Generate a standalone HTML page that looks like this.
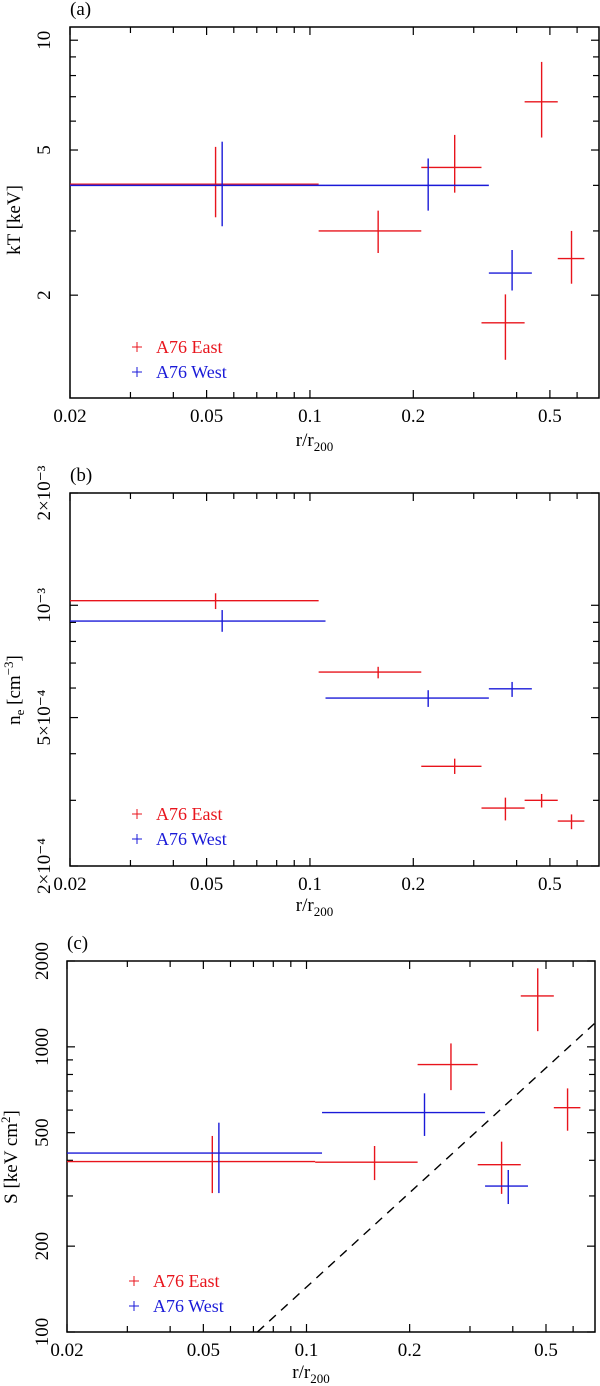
<!DOCTYPE html>
<html><head><meta charset="utf-8"><style>
html,body{margin:0;padding:0;background:#fff;}
svg{display:block;font-family:"Liberation Serif","DejaVu Serif",serif;}
</style></head><body>
<svg id="fig" width="600" height="1386" viewBox="0 0 600 1386" xmlns="http://www.w3.org/2000/svg"></svg>
<script>
// ---------- data ----------
// Panel (a) kT [keV]
const eastA_x=[0.0531,0.158,0.264,0.371,0.473,0.578];
const eastA_xlo=[0.02,0.106,0.211,0.316,0.422,0.527];
const eastA_xhi=[0.106,0.211,0.316,0.422,0.527,0.63];
const eastA_y=[4.03,3.0,4.48,1.68,6.78,2.52];
const eastA_ylo=[3.27,2.61,3.82,1.33,5.41,2.15];
const eastA_yhi=[5.1,3.41,5.5,2.01,8.72,3.0];
const westA_x=[0.0555,0.221,0.388];
const westA_xlo=[0.02,0.111,0.332];
const westA_xhi=[0.111,0.332,0.443];
const westA_y=[4.0,4.0,2.30];
const westA_ylo=[3.09,3.41,2.06];
const westA_yhi=[5.27,4.74,2.66];
// Panel (b) n_e [cm^-3]
const eastB_y=[1.029e-3,6.62e-4,3.70e-4,2.86e-4,3.0e-4,2.64e-4];
const eastB_ylo=[0.977e-3,6.37e-4,3.53e-4,2.65e-4,2.87e-4,2.51e-4];
const eastB_yhi=[1.077e-3,6.84e-4,3.88e-4,3.05e-4,3.12e-4,2.75e-4];
const westB_y=[9.07e-4,5.64e-4,5.97e-4];
const westB_ylo=[8.49e-4,5.34e-4,5.68e-4];
const westB_yhi=[9.71e-4,5.92e-4,6.23e-4];
// Panel (c) S [keV cm^2]
const eastC_y=[396,394,867,386,1508,612];
const eastC_ylo=[307,341,705,305,1135,508];
const eastC_yhi=[487,449,1028,465,1885,715];
const westC_y=[424,588,325];
const westC_ylo=[307,487,281];
const westC_yhi=[542,687,370];
const baseline_x=[0.0719,0.692];
const baseline_y=[100,1206];
// ticks
const xTickLabels=["0.02","0.05","0.1","0.2","0.5"];
const xTickValues=[0.02,0.05,0.1,0.2,0.5];
const xMinor=[0.03,0.04,0.06,0.07,0.08,0.09,0.3,0.4,0.6];
const yTickA=[2,5,10]; const yTickALabels=["2","5","10"];
const yMinorA=[3,4,6,7,8,9];
const yTickB=[2e-4,5e-4,1e-3,2e-3]; const yTickBLabels=["2×10⁻⁴","5×10⁻⁴","10⁻³","2×10⁻³"];
const yMinorB=[3e-4,4e-4,6e-4,7e-4,8e-4,9e-4];
const yTickC=[100,200,500,1000,2000]; const yTickCLabels=["100","200","500","1000","2000"];
const yMinorC=[300,400,600,700,800,900];

const NS="http://www.w3.org/2000/svg";
const svg=document.getElementById('fig');
const RED="#e8141c", BLUE="#1a1ad8";
function mk(tag,attrs,parent){const e=document.createElementNS(NS,tag);for(const k in attrs)e.setAttribute(k,attrs[k]);(parent||svg).appendChild(e);return e;}

function panel(cfg){
  const g=mk('g',{});
  
  
  const L=cfg.left,R=cfg.right,T=cfg.top,B=cfg.bottom;
  const lx0=Math.log10(0.02),lx1=Math.log10(0.695);
  const ly0=Math.log10(cfg.ymin),ly1=Math.log10(cfg.ymax);
  const sx=v=>L+(Math.log10(v)-lx0)/(lx1-lx0)*(R-L);
  const sy=v=>B-(Math.log10(v)-ly0)/(ly1-ly0)*(B-T);
  const tk=mk('g',{stroke:'#000','stroke-width':1.2},g);
  
  
  xTickValues.concat(xMinor).forEach((v,i)=>{const x=sx(v),len=i<xTickValues.length?8:6;
    mk('line',{x1:x,x2:x,y1:B,y2:B-len},tk);mk('line',{x1:x,x2:x,y1:T,y2:T+len},tk);});
  cfg.yt.concat(cfg.ym).forEach((v,i)=>{const y=sy(v),len=i<cfg.yt.length?8:6;
    mk('line',{x1:L,x2:L+len,y1:y,y2:y},tk);mk('line',{x1:R,x2:R-len,y1:y,y2:y},tk);});
  const fr=mk('rect',{x:L,y:T,width:R-L,height:B-T,fill:'none',stroke:'#000','stroke-width':1.5},g);
  
  
  xTickValues.forEach((v,i)=>{const t=mk('text',{x:sx(v),y:B+24,'font-size':19,'text-anchor':'middle'},g);t.textContent=xTickLabels[i];
    
    });
  cfg.yt.forEach((v,i)=>{const y=sy(v);const t=mk('text',{x:0,y:0,'font-size':19,'text-anchor':'middle',transform:`translate(${cfg.ylx},${y}) rotate(-90)`},g);t.textContent=cfg.ytl[i];
    
    });
  const xt=mk('text',{x:(L+R)/2+(cfg.xtOff||0),y:cfg.xTitleY,'font-size':19,'text-anchor':'middle'},g);
  xt.innerHTML='r/r<tspan font-size="13" dy="5">200</tspan>';
  
  
  const yt=mk('text',{x:0,y:0,'font-size':19,'text-anchor':'middle',transform:`translate(${cfg.ytX},${cfg.ytY}) rotate(-90)`},g);
  yt.innerHTML=cfg.yTitle;
  
  
  const pl=mk('text',{x:L,y:T-12,'font-size':19},g);pl.textContent=cfg.label;
  
  
  if(cfg.base){const bl=mk('line',{x1:sx(baseline_x[0]),y1:sy(baseline_y[0]),x2:sx(baseline_x[1]),y2:sy(baseline_y[1]),stroke:'#000','stroke-width':1.4,'stroke-dasharray':'9,7'},g);
    
    }
  function series(col,nm,x,xlo,xhi,y,ylo,yhi){
    const sg=mk('g',{stroke:col,'stroke-width':1.4},g);
    
    
    for(let i=0;i<x.length;i++){
      const h=mk('line',{x1:sx(xlo[i]),x2:sx(xhi[i]),y1:sy(y[i]),y2:sy(y[i])},sg);
      
      
      const v=mk('line',{x1:sx(x[i]),x2:sx(x[i]),y1:sy(ylo[i]),y2:sy(yhi[i])},sg);
      
      
    }
  }
  series(RED,'series-a76-east',eastA_x,eastA_xlo,eastA_xhi,cfg.ey,cfg.eylo,cfg.eyhi);
  series(BLUE,'series-a76-west',westA_x,westA_xlo,westA_xhi,cfg.wy,cfg.wylo,cfg.wyhi);
  [[RED,'A76 East',cfg.legY],[BLUE,'A76 West',cfg.legY+25]].forEach(([c,t,y])=>{
    const lg=mk('g',{},g);
    
    
    mk('line',{x1:L+62,x2:L+72,y1:y,y2:y,stroke:c,'stroke-width':1},lg);
    mk('line',{x1:L+67,x2:L+67,y1:y-5,y2:y+5,stroke:c,'stroke-width':1},lg);
    const tx=mk('text',{x:L+86,y:y+6,'font-size':18,fill:c},lg);tx.textContent=t;
  });
}
panel({name:'panel-a-temperature',label:'(a)',left:70,right:599,top:27,bottom:398,ymin:1.045,ymax:10.87,
  yt:yTickA,ytl:yTickALabels,ym:yMinorA,ylx:50,xTitleY:446,ytX:20,ytY:220,
  yTitle:'kT [keV]',ey:eastA_y,eylo:eastA_ylo,eyhi:eastA_yhi,wy:westA_y,wylo:westA_ylo,wyhi:westA_yhi,legY:347,xtOff:-20});
panel({name:'panel-b-density',label:'(b)',left:70,right:599,top:493,bottom:866,ymin:2e-4,ymax:2e-3,
  yt:yTickB,ytl:yTickBLabels,ym:yMinorB,ylx:50,xTitleY:911,ytX:20,ytY:690,
  yTitle:'n<tspan font-size="13" dy="4">e</tspan><tspan dy="-4"> [cm</tspan><tspan font-size="13" dy="-7">−3</tspan><tspan dy="7">]</tspan>',
  ey:eastB_y,eylo:eastB_ylo,eyhi:eastB_yhi,wy:westB_y,wylo:westB_ylo,wyhi:westB_yhi,legY:814,xtOff:-20});
panel({name:'panel-c-entropy',label:'(c)',left:67,right:595,top:961,bottom:1332,ymin:100,ymax:2000,
  yt:yTickC,ytl:yTickCLabels,ym:yMinorC,ylx:48,xTitleY:1378,ytX:17,ytY:1157,
  yTitle:'S [keV cm<tspan font-size="13" dy="-7">2</tspan><tspan dy="7">]</tspan>',
  ey:eastC_y,eylo:eastC_ylo,eyhi:eastC_yhi,wy:westC_y,wylo:westC_ylo,wyhi:westC_yhi,legY:1281,base:true,xtOff:-20});
</script>
</body></html>
